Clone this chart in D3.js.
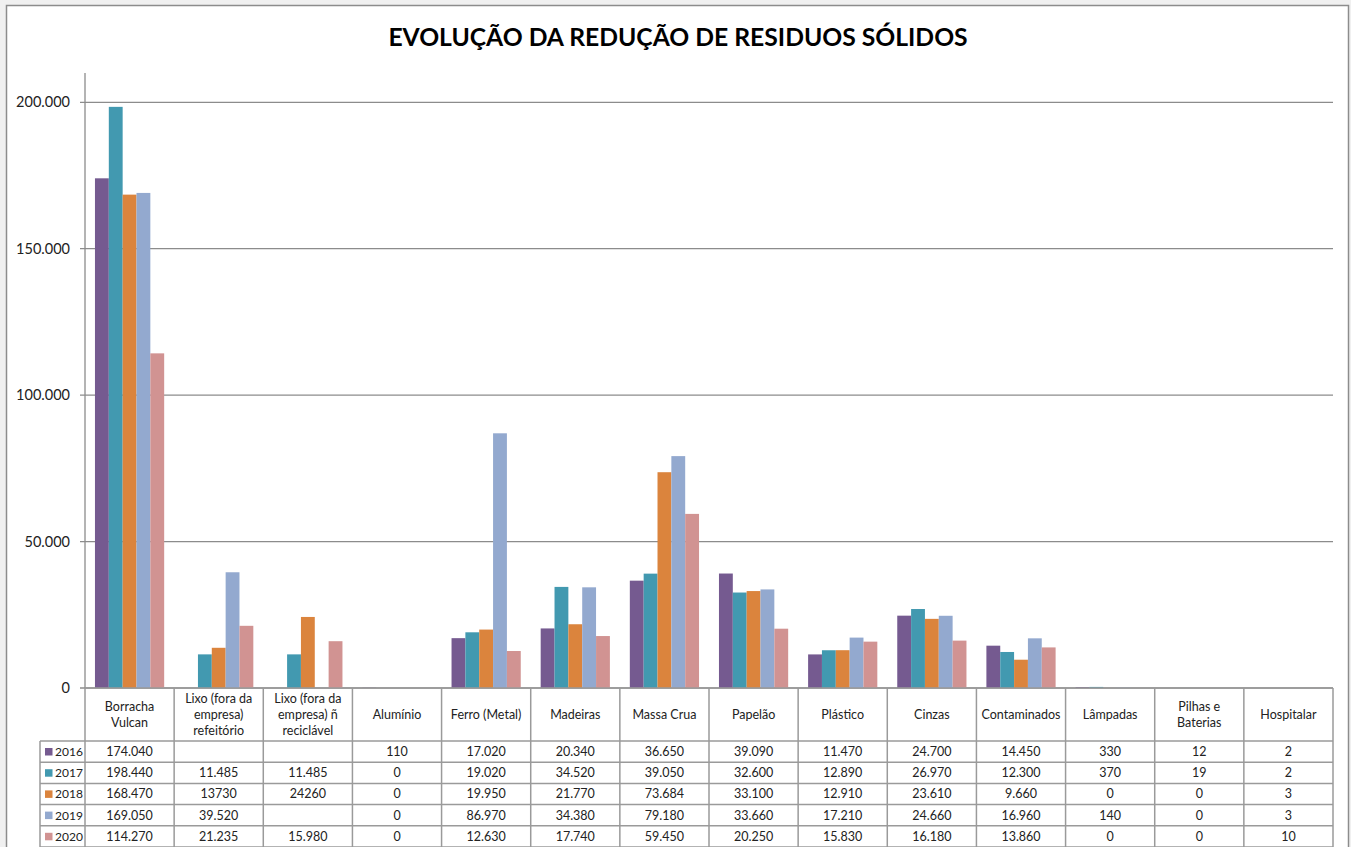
<!DOCTYPE html>
<html>
<head>
<meta charset="utf-8">
<script src="https://cdn.jsdelivr.net/npm/d3@7"></script>
<style>
body{margin:0;background:#f0f0f0;}
svg{display:block;font-family:Lato,"Open Sans",sans-serif;}
</style>
</head>
<body>
<svg id="chart" width="1351" height="847"></svg>
<script>
// categories (header labels of the data table, \n = line break)
var categories = ["Borracha\nVulcan", "Lixo (fora da\nempresa)\nrefeitório", "Lixo (fora da\nempresa) ñ\nreciclável", "Alumínio", "Ferro (Metal)", "Madeiras", "Massa Crua", "Papelão", "Plástico", "Cinzas", "Contaminados", "Lâmpadas", "Pilhas e\nBaterias", "Hospitalar"];
var years = ["2016", "2017", "2018", "2019", "2020"];
var colors = ["#755a90", "#4299b0", "#db843d", "#93a9cf", "#d19392"];

// values as written in the table ("" = empty cell)
var s2016 = ["174.040", "", "", "110", "17.020", "20.340", "36.650", "39.090", "11.470", "24.700", "14.450", "330", "12", "2"];
var s2017 = ["198.440", "11.485", "11.485", "0", "19.020", "34.520", "39.050", "32.600", "12.890", "26.970", "12.300", "370", "19", "2"];
var s2018 = ["168.470", "13730", "24260", "0", "19.950", "21.770", "73.684", "33.100", "12.910", "23.610", "9.660", "0", "0", "3"];
var s2019 = ["169.050", "39.520", "", "0", "86.970", "34.380", "79.180", "33.660", "17.210", "24.660", "16.960", "140", "0", "3"];
var s2020 = ["114.270", "21.235", "15.980", "0", "12.630", "17.740", "59.450", "20.250", "15.830", "16.180", "13.860", "0", "0", "10"];

var yTicks = [0, 50000, 100000, 150000, 200000];
var yTickLabels = ["0", "50.000", "100.000", "150.000", "200.000"];

var series = [s2016, s2017, s2018, s2019, s2020];
function num(s){ return s === "" ? null : +s.replace(/\./g, ""); }

var svg = d3.select("#chart");
var plotLeft = 85, plotRight = 1333, plotTop = 73, base = 688;
var headH = 53, rowH = 21.2, legendX = 40;

// chart frame
svg.append("rect").attr("x", 6.5).attr("y", 5.5).attr("width", 1342).attr("height", 900)
  .attr("fill", "#fff").attr("stroke", "#8c8c8c").attr("stroke-width", 1.5);

svg.append("text").attr("x", 678).attr("y", 46).attr("text-anchor", "middle")
  .attr("font-size", 24.7).attr("font-weight", "bold").attr("fill", "#000")
  .text("EVOLUÇÃO DA REDUÇÃO DE RESIDUOS SÓLIDOS");

var x = d3.scaleBand().domain(categories).range([plotLeft, plotRight]);
var x1 = d3.scaleBand().domain(years).range([0, x.bandwidth()]).paddingOuter(0.72);
var y = d3.scaleLinear().domain([0, 210000]).range([base, plotTop]);

// gridlines
svg.append("g").selectAll("line").data(yTicks).enter().append("line")
  .attr("x1", plotLeft - 5).attr("x2", plotRight)
  .attr("y1", d => y(d)).attr("y2", d => y(d))
  .attr("stroke", "#8c8c8c").attr("stroke-width", 1.3);

// y axis
svg.append("line").attr("x1", plotLeft).attr("x2", plotLeft).attr("y1", plotTop).attr("y2", base)
  .attr("stroke", "#8c8c8c").attr("stroke-width", 1.3);
svg.append("g").selectAll("text").data(yTicks).enter().append("text")
  .attr("x", 70).attr("y", d => y(d) + 5).attr("text-anchor", "end")
  .attr("font-size", 14.5).attr("fill", "#222")
  .text((d, i) => yTickLabels[i]);

// bars
years.forEach(function(yr, j){
  var g = svg.append("g");
  series[j].forEach(function(s, i){
    var v = num(s);
    if (v === null) return;
    g.append("rect")
      .attr("x", x(categories[i]) + x1(yr))
      .attr("width", x1.bandwidth())
      .attr("y", y(v))
      .attr("height", base - y(v))
      .attr("fill", colors[j]);
  });
});

// data table
var tbl = svg.append("g");
var tableBottom = base + headH + rowH * years.length;
var lineStyle = sel => sel.attr("stroke", "#9a9a9a").attr("stroke-width", 1.5).attr("fill", "none");

// horizontal lines
tbl.append("line").attr("x1", plotLeft).attr("x2", plotRight).attr("y1", base).attr("y2", base).call(lineStyle);
d3.range(years.length + 1).forEach(function(r){
  var yy = base + headH + r * rowH;
  tbl.append("line").attr("x1", legendX).attr("x2", plotRight).attr("y1", yy).attr("y2", yy).call(lineStyle);
});
// vertical lines
tbl.append("line").attr("x1", legendX).attr("x2", legendX).attr("y1", base + headH).attr("y2", tableBottom).call(lineStyle);
categories.forEach(function(c){
  tbl.append("line").attr("x1", x(c)).attr("x2", x(c)).attr("y1", base).attr("y2", tableBottom).call(lineStyle);
});
tbl.append("line").attr("x1", plotRight).attr("x2", plotRight).attr("y1", base).attr("y2", tableBottom).call(lineStyle);

// header labels
categories.forEach(function(c){
  var lines = c.split("\n");
  var cx = x(c) + x.bandwidth() / 2;
  var cy = base + headH / 2;
  var t = tbl.append("text").attr("text-anchor", "middle").attr("font-size", 12.5).attr("fill", "#222");
  lines.forEach(function(l, k){
    t.append("tspan").attr("x", cx).attr("y", cy + 4.5 + (k - (lines.length - 1) / 2) * 16).text(l);
  });
});

// rows
years.forEach(function(yr, j){
  var ry = base + headH + j * rowH;
  tbl.append("rect").attr("x", 45).attr("y", ry + 7).attr("width", 7.5).attr("height", 7.5).attr("fill", colors[j]);
  tbl.append("text").attr("x", 55).attr("y", ry + 15).attr("font-size", 12).attr("fill", "#222").text(yr);
  series[j].forEach(function(s, i){
    tbl.append("text").attr("x", x(categories[i]) + x.bandwidth() / 2).attr("y", ry + 15)
      .attr("text-anchor", "middle").attr("font-size", 12.5).attr("fill", "#222").text(s);
  });
});
</script>
</body>
</html>
